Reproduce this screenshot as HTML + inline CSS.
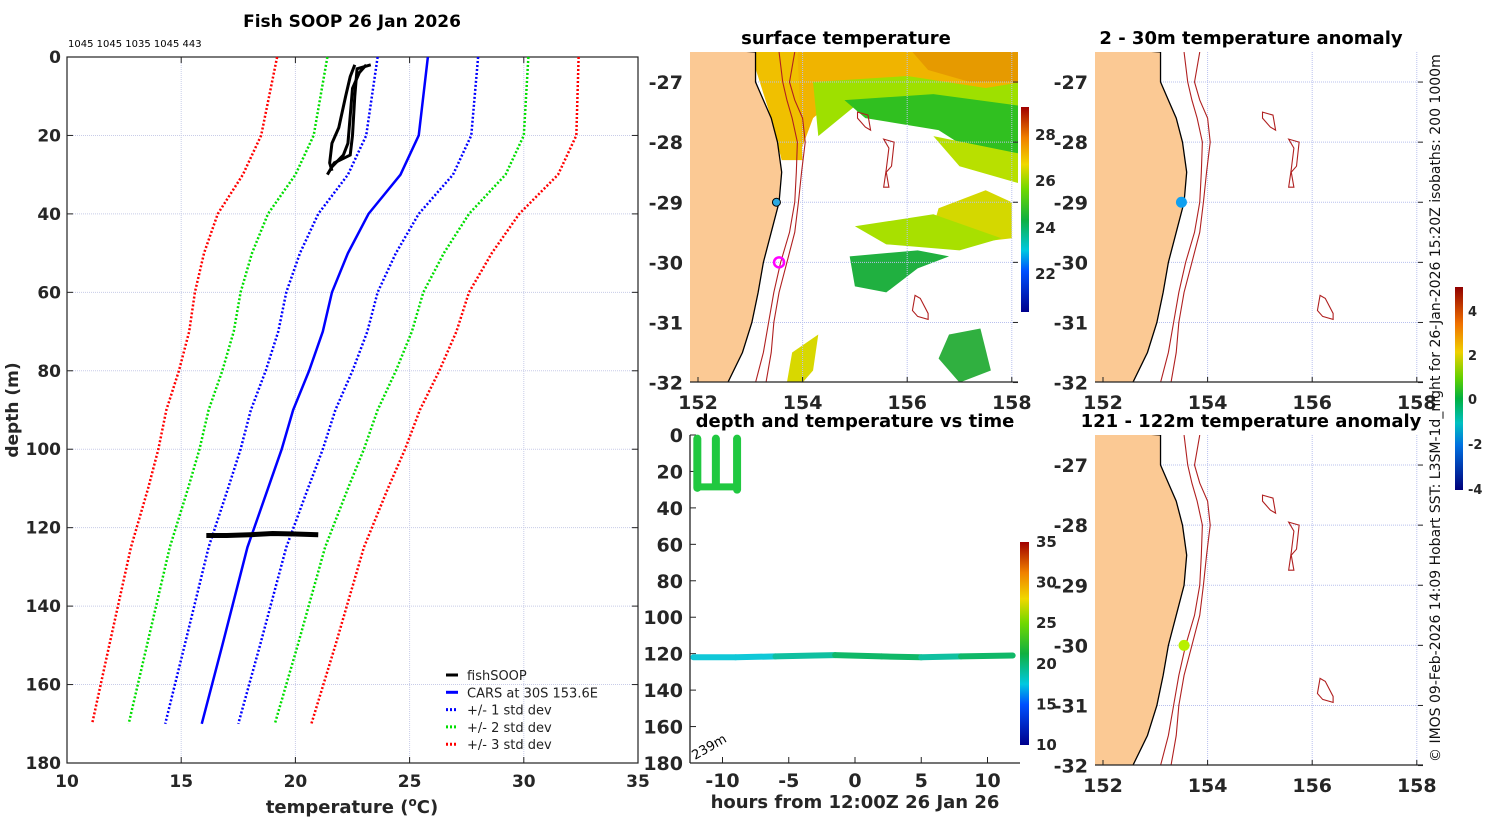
<!DOCTYPE html>
<html><head><meta charset="utf-8"><style>
body{margin:0;background:#fff;}
svg{display:block;font-family:"DejaVu Sans","Liberation Sans",sans-serif;}
.tk{font-weight:bold;fill:#262626;}
.tt{font-weight:bold;fill:#000;}
</style></head><body>
<svg id="fig" width="1500" height="820" viewBox="0 0 1500 820" font-size="16" xmlns="http://www.w3.org/2000/svg">
<g id="prof"></g>
<g id="sst"></g>
<g id="dt"></g>
<g id="an1"></g>
<g id="an2"></g>
<text transform="translate(1440,762) rotate(-90)" font-size="14" fill="#111">© IMOS 09-Feb-2026 14:09 Hobart SST: L3SM-1d_night for 26-Jan-2026 15:20Z isobaths: 200  1000m</text>
</svg>
<script>
// ---------- profile data ----------
const depths=[0,20,30,40,50,60,70,80,90,100,110,125,150,170];
const carsMean=[25.8,25.4,24.6,23.2,22.3,21.6,21.2,20.6,19.9,19.4,18.8,17.9,16.8,15.9];
const carsStd=[2.2,2.3,2.3,2.2,2.1,2.0,1.95,1.9,1.85,1.8,1.75,1.7,1.65,1.6];
const fishA_T=[22.6,22.4,22.2,21.9,21.6,21.5,21.6];
const fishA_D=[2,5,10,18,22,27,29];
const fishB_T=[23.1,22.8,22.5,22.4,22.3,22.1,21.6];
const fishB_D=[2,4,8,15,22,25,28];
const fishC_T=[23.3,22.7,22.6,22.5,22.4,21.7,21.4];
const fishC_D=[2,3,10,20,25,27,30];
const deepT=[16.1,17,18,19,20,21];
const deepD=[122,122,121.8,121.5,121.6,121.8];
const xTicks=[10,15,20,25,30,35];
const yTicks=[0,20,40,60,80,100,120,140,160,180];
const NS='http://www.w3.org/2000/svg';
function mk(p,tag,a,txt){const e=document.createElementNS(NS,tag);for(const k in a)e.setAttribute(k,a[k]);if(txt!==undefined)e.textContent=txt;p.appendChild(e);return e;}
const P=document.getElementById('prof');
const X0=67,X1=638,Y0=57,Y1=763;
const px=t=>X0+(t-10)/25*(X1-X0), py=d=>Y0+d/180*(Y1-Y0);
let e=mk(P,'text',{x:352,y:27,'text-anchor':'middle',class:'tt','font-size':17},'Fish SOOP 26 Jan 2026');

e=mk(P,'text',{x:68,y:47,'font-size':10,fill:'#000'},'1045 1045 1035 1045 443');

mk(P,'rect',{x:X0,y:Y0,width:X1-X0,height:Y1-Y0,fill:'#fff'});
xTicks.forEach(t=>{const x=px(t);
 if(t>10&&t<35) mk(P,'line',{x1:x,x2:x,y1:Y0,y2:Y1,stroke:'#c8cce8','stroke-width':1,'stroke-dasharray':'1 1'});
 mk(P,'line',{x1:x,x2:x,y1:Y1,y2:Y1-6,stroke:'#222'});mk(P,'line',{x1:x,x2:x,y1:Y0,y2:Y0+6,stroke:'#222'});
 e=mk(P,'text',{x:x,y:Y1+24,'text-anchor':'middle',class:'tk','font-size':17},t);
 });
yTicks.forEach(t=>{const y=py(t);
 if(t>0&&t<180) mk(P,'line',{x1:X0,x2:X1,y1:y,y2:y,stroke:'#c8cce8','stroke-width':1,'stroke-dasharray':'1 1'});
 mk(P,'line',{x1:X0,x2:X0+6,y1:y,y2:y,stroke:'#222'});mk(P,'line',{x1:X1,x2:X1-6,y1:y,y2:y,stroke:'#222'});
 e=mk(P,'text',{x:X0-6,y:y+6,'text-anchor':'end',class:'tk','font-size':17},t);
 });
mk(P,'rect',{x:X0,y:Y0,width:X1-X0,height:Y1-Y0,fill:'none',stroke:'#222','stroke-width':1.2});
e=mk(P,'text',{x:352,y:813,'text-anchor':'middle',class:'tk','font-size':18},'');
e.innerHTML='temperature (<tspan dy="-7" font-size="12">o</tspan><tspan dy="7">C)</tspan>';

e=mk(P,'text',{transform:'translate(18,410) rotate(-90)','text-anchor':'middle',class:'tk','font-size':17},'depth (m)');

const cols={3:'#f00',2:'#0d0',1:'#00f'};
[-3,-2,-1,1,2,3].forEach(k=>{
 const pts=depths.map((d,i)=>px(carsMean[i]+k*carsStd[i])+','+py(d)).join(' ');
 e=mk(P,'polyline',{points:pts,fill:'none',stroke:cols[Math.abs(k)],'stroke-width':2.5,'stroke-dasharray':'2 2'});
 });
e=mk(P,'polyline',{points:depths.map((d,i)=>px(carsMean[i])+','+py(d)).join(' '),fill:'none',stroke:'#00f','stroke-width':2.5});

[[fishA_T,fishA_D],[fishB_T,fishB_D],[fishC_T,fishC_D]].forEach(([T,D])=>{
 e=mk(P,'polyline',{points:T.map((t,i)=>px(t)+','+py(D[i])).join(' '),fill:'none',stroke:'#000','stroke-width':3});
 });
e=mk(P,'polyline',{points:deepT.map((t,i)=>px(t)+','+py(deepD[i])).join(' '),fill:'none',stroke:'#000','stroke-width':5});

const leg=[['fishSOOP','#000',''],['CARS at 30S 153.6E','#00f',''],['+/- 1 std dev','#00f','2 2'],['+/- 2 std dev','#0d0','2 2'],['+/- 3 std dev','#f00','2 2']];
leg.forEach((l,i)=>{const y=675+i*17.3;
 mk(P,'line',{x1:446,x2:458,y1:y,y2:y,stroke:l[1],'stroke-width':3,'stroke-dasharray':l[2]});
 e=mk(P,'text',{x:467,y:y+5,'font-size':13,fill:'#222'},l[0]);
 });

// ---------- maps ----------
const coastLat=[-26.5,-27,-27.3,-27.6,-28,-28.5,-29,-29.5,-30,-30.5,-31,-31.5,-32];
const coastLon=[153.1,153.1,153.25,153.4,153.52,153.6,153.55,153.4,153.25,153.15,153.03,152.85,152.57];
const iso1Lon=[153.55,153.62,153.7,153.8,153.9,153.88,153.85,153.75,153.58,153.45,153.35,153.25,153.1];
const iso2Lon=[153.85,153.75,153.85,154.0,154.05,153.98,153.92,153.85,153.7,153.55,153.45,153.4,153.3];
const seamounts=[[[155.05,-27.5],[155.25,-27.55],[155.3,-27.8],[155.2,-27.75],[155.05,-27.6]],
 [[155.55,-27.95],[155.75,-28.0],[155.7,-28.4],[155.6,-28.5],[155.65,-28.75],[155.55,-28.75],[155.6,-28.45],[155.65,-28.1]],
 [[156.15,-30.55],[156.25,-30.6],[156.4,-30.85],[156.4,-30.95],[156.2,-30.9],[156.1,-30.8]]];
function drawMap(G,ox,oy,x152,yTop,title){
 const sx=52.3, sy=60.1, W=328, H=330;
 const mx=l=>x152+(l-152)*sx, my=l=>yTop+(-26.5-l)*sy;
 e=mk(G,'text',{x:ox+W/2-8,y:oy-8,'text-anchor':'middle',class:'tt','font-size':18},title);
 
 const cp=document.createElementNS(NS,'clipPath');cp.id='c'+ox+oy;G.appendChild(cp);
 mk(cp,'rect',{x:ox,y:oy,width:W,height:H});
 const g=mk(G,'g',{'clip-path':'url(#c'+ox+oy+')'});
 return {g,mx,my,W,H};
}
function finishMap(G,m,ox,oy,dot){
 const {g,mx,my,W,H}=m;
 [154,156,158].forEach(l=>mk(g,'line',{x1:mx(l),x2:mx(l),y1:oy,y2:oy+H,stroke:'#b8c0ee','stroke-dasharray':'1 1'}));
 [-27,-28,-29,-30,-31].forEach(l=>mk(g,'line',{x1:ox,x2:ox+W,y1:my(l),y2:my(l),stroke:'#b8c0ee','stroke-dasharray':'1 1'}));
 let land=coastLat.map((la,i)=>mx(coastLon[i])+','+my(la)).join(' ')+' '+(ox-5)+','+(oy+H+5)+' '+(ox-5)+','+(oy-5);
 e=mk(g,'polygon',{points:land,fill:'#fbc994',stroke:'#000','stroke-width':1.3});
 
 [iso1Lon,iso2Lon].forEach(a=>{e=mk(g,'polyline',{points:coastLat.map((la,i)=>mx(a[i])+','+my(la)).join(' '),fill:'none',stroke:'#b02020','stroke-width':1.1});
  });
 seamounts.forEach(s=>{e=mk(g,'polygon',{points:s.map(p=>mx(p[0])+','+my(p[1])).join(' '),fill:'none',stroke:'#b02020','stroke-width':1.1});
  });
 if(dot){e=mk(g,'circle',{cx:mx(dot[0]),cy:my(dot[1]),r:dot[3],fill:dot[2],stroke:dot[4]||'none','stroke-width':dot[5]||0});
  }
 mk(G,'line',{x1:ox,x2:ox+W,y1:oy+H,y2:oy+H,stroke:'#222','stroke-width':1.3});
 [152,154,156,158].forEach(l=>{mk(G,'line',{x1:mx(l),x2:mx(l),y1:oy+H,y2:oy+H-5,stroke:'#222'});
  e=mk(G,'text',{x:mx(l),y:oy+H+27,'text-anchor':'middle',class:'tk','font-size':19},l);
  });
 [-27,-28,-29,-30,-31,-32].forEach(l=>{mk(G,'line',{x1:ox+W,x2:ox+W-5,y1:my(l),y2:my(l),stroke:'#222'});
  e=mk(G,'text',{x:ox-7,y:my(l)+7,'text-anchor':'end',class:'tk','font-size':19},l);
  });
}
// SST map
const S=document.getElementById('sst');
let m=drawMap(S,690,52,698,52,'surface temperature');
const blobs=[
 ['#f0b400',[[153.9,-26.5],[158.2,-26.5],[158.2,-27.1],[156.5,-27.2],[155,-27.0],[154.2,-27.6],[153.9,-28.3]]],
 ['#e69a00',[[156.1,-26.5],[158.2,-26.5],[158.2,-27.0],[157.2,-27.0],[156.4,-26.8]]],
 ['#9ee000',[[154.2,-27.0],[156.0,-26.9],[157.5,-27.1],[158.2,-27.0],[158.2,-27.6],[157,-27.4],[155,-27.4],[154.3,-27.9]]],
 ['#30c020',[[154.8,-27.3],[156.5,-27.2],[158.2,-27.4],[158.2,-28.6],[157.5,-28.3],[156.6,-27.8],[155.2,-27.6]]],
 ['#b8e000',[[156.5,-27.9],[158.2,-28.2],[158.2,-28.7],[157,-28.4]]],
 ['#d4d800',[[156.6,-29.1],[157.5,-28.8],[158.0,-29.0],[158.0,-29.6],[157,-29.7],[156.5,-29.4]]],
 ['#a8e000',[[155.0,-29.4],[156.5,-29.2],[157.8,-29.6],[157.0,-29.8],[155.6,-29.7]]],
 ['#20b040',[[154.9,-29.9],[156.2,-29.8],[156.8,-29.9],[156.2,-30.1],[155.6,-30.5],[155.0,-30.4]]],
 ['#d8d800',[[153.8,-31.5],[154.3,-31.2],[154.2,-31.8],[154.0,-32],[153.7,-32]]],
 ['#30b040',[[156.8,-31.2],[157.4,-31.1],[157.6,-31.8],[157.0,-32],[156.6,-31.6]]],
 ['#f0c000',[[153.0,-26.5],[153.9,-26.5],[154.0,-28.3],[153.6,-28.3],[153.4,-27.6]]]];
blobs.forEach(b=>{e=mk(m.g,'polygon',{points:b[1].map(p=>m.mx(p[0])+','+m.my(p[1])).join(' '),fill:b[0]});
 });
finishMap(S,m,690,52,[153.55,-30.0,'none',5,'#f0f',2.5]);
e=mk(m.g,'circle',{cx:m.mx(153.5),cy:m.my(-29.0),r:4,fill:'#2aa8e0',stroke:'#000','stroke-width':1});

const grad=mk(S,'defs',{});
const lg=mk(grad,'linearGradient',{id:'jet',x1:0,y1:1,x2:0,y2:0});
[['0','#00008c'],['0.2','#0050ff'],['0.3','#00c8e0'],['0.45','#10b040'],['0.6','#70d800'],['0.72','#f0d800'],['0.85','#f08000'],['1','#a00000']].forEach(s=>mk(lg,'stop',{offset:s[0],'stop-color':s[1]}));
e=mk(S,'rect',{x:1021,y:107,width:8,height:205,fill:'url(#jet)'});

[[28,134],[26,180],[24,227],[22,273]].forEach(t=>{e=mk(S,'text',{x:1035,y:t[1]+6,class:'tk','font-size':15},t[0]);
 });
const A1=document.getElementById('an1');
m=drawMap(A1,1095,52,1103,52,'2 - 30m temperature anomaly');
finishMap(A1,m,1095,52,[153.5,-29.0,'#10a0f0',5.5]);
const A2=document.getElementById('an2');
m=drawMap(A2,1095,435,1103,435,'121 - 122m temperature anomaly');
finishMap(A2,m,1095,435,[153.55,-30.0,'#b8f000',5.5]);
const lg2=mk(grad,'linearGradient',{id:'anom',x1:0,y1:1,x2:0,y2:0});
[['0','#00007a'],['0.22','#0070e0'],['0.33','#00c0c0'],['0.45','#00b040'],['0.55','#60d000'],['0.68','#f0d000'],['0.82','#f07000'],['1','#900000']].forEach(s=>mk(lg2,'stop',{offset:s[0],'stop-color':s[1]}));
e=mk(A1,'rect',{x:1455,y:287,width:8,height:203,fill:'url(#anom)'});

[[4,311],[2,355],[0,399],[-2,444],[-4,489]].forEach(t=>{e=mk(A1,'text',{x:1468,y:t[1]+5,class:'tk','font-size':13},t[0]);
 });

// ---------- depth-time ----------
const dtX=[-10,-5,0,5,10];
const dtY=[0,20,40,60,80,100,120,140,160,180];
const castHours=[-11.9,-10.5,-8.9];
const castMaxDepth=[29,28,30];
const deepHours=[-12.2,-9,-6,-3,-1.5,2,5,8,11.9];
const deepDepths=[122,122,121.5,121,120.8,121.5,122,121.5,121];
const deepTemps=[17,16.5,18,18.5,19.5,19.5,18.8,19,19];
const D=document.getElementById('dt');
const dx=h=>855+h*13.25, dy=d=>435+d*(328/180);
const tc=t=>{const f=(t-10)/25;return f<0.3?'#10c8d8':f<0.36?'#10c0a0':'#10b868';};
e=mk(D,'text',{x:855,y:427,'text-anchor':'middle',class:'tt','font-size':18},'depth and temperature vs time');

mk(D,'line',{x1:690,x2:690,y1:435,y2:763,stroke:'#222','stroke-width':1.3});
mk(D,'line',{x1:690,x2:1020,y1:763,y2:763,stroke:'#222','stroke-width':1.3});
dtY.forEach(t=>{mk(D,'line',{x1:690,x2:696,y1:dy(t),y2:dy(t),stroke:'#222'});
 e=mk(D,'text',{x:683,y:dy(t)+7,'text-anchor':'end',class:'tk','font-size':19},t);
 });
dtX.forEach(t=>{mk(D,'line',{x1:dx(t),x2:dx(t),y1:763,y2:757,stroke:'#222'});
 e=mk(D,'text',{x:dx(t),y:787,'text-anchor':'middle',class:'tk','font-size':19},t);
 });
e=mk(D,'text',{x:855,y:808,'text-anchor':'middle',class:'tk','font-size':18},'hours from 12:00Z 26 Jan 26');

castHours.forEach((h,i)=>{e=mk(D,'line',{x1:dx(h),x2:dx(h),y1:dy(2),y2:dy(castMaxDepth[i]),stroke:'#20c840','stroke-width':8,'stroke-linecap':'round'});
 });
e=mk(D,'line',{x1:dx(castHours[0]),x2:dx(castHours[2]),y1:dy(28.5),y2:dy(28.5),stroke:'#20c840','stroke-width':7,'stroke-linecap':'round'});

for(let i=0;i<deepHours.length-1;i++){e=mk(D,'line',{x1:dx(deepHours[i]),x2:dx(deepHours[i+1]),y1:dy(deepDepths[i]),y2:dy(deepDepths[i+1]),stroke:tc(deepTemps[i]),'stroke-width':6,'stroke-linecap':'round'});
 }
e=mk(D,'text',{transform:'translate(695,760) rotate(-30)','font-size':13,fill:'#000'},'239m');

e=mk(D,'rect',{x:1020,y:542,width:9,height:203,fill:'url(#jet)'});

[35,30,25,20,15,10].forEach(t=>{const y=745-(t-10)/25*203;
 e=mk(D,'text',{x:1036,y:y+5,class:'tk','font-size':15},t);
 });
</script>
</body></html>
